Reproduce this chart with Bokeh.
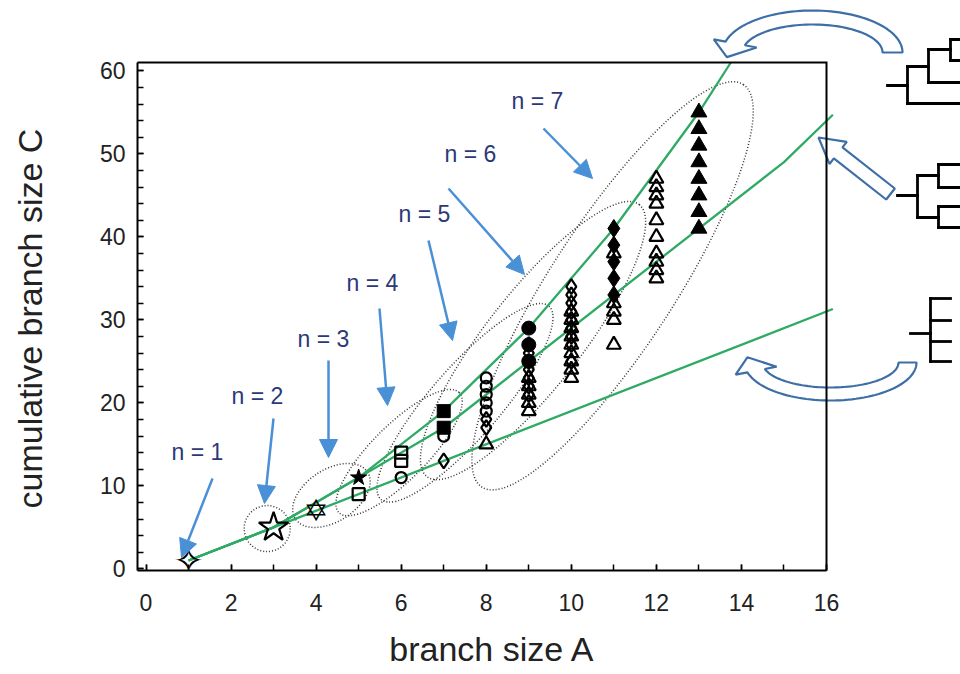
import numpy as np
from bokeh.plotting import figure
from bokeh.models import (Range1d, SingleIntervalTicker, Arrow, NormalHead,
                          ColumnDataSource, PolyAnnotation)
from bokeh.core.properties import value
from bokeh.embed import file_html
from bokeh.resources import INLINE

# ---------------- data: branch size A vs cumulative branch size C ----------------
# reference curves (caterpillar / balanced / star trees), end points read at the box edge
cat_A = [1, 3, 5, 7, 9, 11, 13, 13.75]
cat_C = [1, 5, 11, 19, 29, 41, 55, 61]
bal_A = [1, 3, 7, 15, 16.15]
bal_C = [1, 5, 17, 49, 54.7]
star_A = [1, 3, 16.15]
star_C = [1, 5, 31.3]

# n = 1, 2, 3 (stars)
n1_A, n1_C = [1], [1]
n2_A, n2_C = [3], [5]
n3o_A, n3o_C = [4], [7]
n3b_A, n3b_C = [5], [11]
# n = 4 (squares)
n4o_A = [5, 6, 6]
n4o_C = [9, 13, 14]
n4b_A = [7, 7]
n4b_C = [17, 19]
# n = 5 (circles)
n5o_A = [6, 7, 8, 8, 8, 8, 8]
n5o_C = [11, 16, 19, 20, 21, 22, 23]
n5b_A = [9, 9, 9]
n5b_C = [25, 27, 29]
# n = 6 (diamonds)
n6o_A = [7, 8, 8, 9, 9, 9, 9, 9, 9, 9, 10, 10, 10, 10, 10, 10, 10, 10, 10]
n6o_C = [13, 17, 18, 21, 22, 23, 24, 25, 26, 27, 25, 27, 28, 29, 30, 31, 32, 33, 34]
n6b_A = [11, 11, 11, 11, 11]
n6b_C = [33, 35, 37, 39, 41]
# n = 7 (triangles)
n7o_A = [8, 9, 9, 9, 9, 9, 10, 10, 10, 10, 10, 10, 10, 10, 10,
         11, 11, 11, 11, 11, 12, 12, 12, 12, 12, 12, 12, 12, 12, 12]
n7o_C = [15, 19, 20, 21, 22, 23, 23, 24, 25, 26, 27, 28, 29, 30, 31,
         27, 30, 31, 32, 38, 35, 36, 37, 38, 40, 42, 44, 45, 46, 47]
n7b_A = [13, 13, 13, 13, 13, 13, 13, 13]
n7b_C = [41, 43, 45, 47, 49, 51, 53, 55]

group_labels = ["n = 1", "n = 2", "n = 3", "n = 4", "n = 5", "n = 6", "n = 7"]

# ---------------- geometry ----------------
X0, XMAX, Y0, YMAX = -0.2, 16.0, -0.2, 61.0      # visible plot box
BL, BR, BT, BB = 137, 826, 62, 570                # box in pixels
SX = (BR - BL) / (XMAX - X0)
SY = (BB - BT) / (YMAX - Y0)
W, H = 960, 674
X1 = X0 + (W - BL) / SX                           # frame extends to the right edge
Y1 = Y0 + BB / SY                                 # and to the top edge


def px(x):
    return X0 + (x - BL) / SX


def py(y):
    return Y0 + (BB - y) / SY


GREEN = "#2eaa64"
BLUE = "#4a90d6"
NAVY = "#2c3878"
BLOCK = "#3d6fa6"
FONT = "Liberation Sans"
TXT = "#222222"
NB = "\u00a0"

p = figure(width=W, height=H, x_range=Range1d(X0, X1), y_range=Range1d(Y0, Y1),
           output_backend="svg", toolbar_location=None,
           min_border_left=BL, min_border_right=0, min_border_top=0,
           min_border_bottom=H - BB)
p.xgrid.visible = False
p.ygrid.visible = False
p.outline_line_color = None
p.background_fill_color = "white"
p.border_fill_color = "white"

p.xaxis.ticker = SingleIntervalTicker(interval=2, num_minor_ticks=2)
p.yaxis.ticker = SingleIntervalTicker(interval=10, num_minor_ticks=5)
p.xaxis.bounds = (X0, XMAX)
p.yaxis.bounds = (Y0, YMAX)
for ax in (p.xaxis[0], p.yaxis[0]):
    ax.major_tick_in = 6
    ax.major_tick_out = 0
    ax.minor_tick_in = 6
    ax.minor_tick_out = 0
    ax.major_tick_line_color = "black"
    ax.minor_tick_line_color = "black"
    ax.major_tick_line_width = 1.5
    ax.minor_tick_line_width = 1.5
    ax.axis_line_width = 2
    ax.axis_line_color = "black"
    ax.major_label_text_font = FONT
    ax.major_label_text_font_size = "23px"
    ax.major_label_text_color = TXT
    ax.axis_label_text_font = FONT
    ax.axis_label_text_font_size = "34px"
    ax.axis_label_text_font_style = "normal"
    ax.axis_label_text_color = TXT
p.xaxis.major_label_standoff = 23
p.yaxis.major_label_standoff = 12
# the axis titles are centred on the whole frame; pad them so they sit centred on the box
p.xaxis.axis_label = "branch size A" + NB * 12
p.yaxis.axis_label = "cumulative branch size C" + NB * 7
p.xaxis.axis_label_standoff = 16
p.yaxis.axis_label_standoff = 48

# ---------------- dotted ellipses around each n group ----------------
ell_x = [2.85, 4.36, 5.95, 7.5, 9.1, 10.97]
ell_y = [4.85, 8.84, 14.0, 20.0, 27.5, 34.1]
ell_w = [46, 86, 170, 256, 345, 480]
ell_h = [46, 52, 55, 70, 95, 124]
ell_a = [0, 33, 45, 49, 52, 57]
p.ellipse(x=ell_x, y=ell_y, width=ell_w, height=ell_h,
          width_units="screen", height_units="screen",
          angle=[np.deg2rad(a) for a in ell_a],
          fill_color=None, line_color="#333333", line_width=1.5, line_dash="1 2")

# ---------------- green curves ----------------
for xs, ys in ((cat_A, cat_C), (bal_A, bal_C), (star_A, star_C)):
    p.line(xs, ys, line_color=GREEN, line_width=2.3)

# ---------------- markers ----------------
LW = 2.2
p.text(x=n1_A, y=n1_C, text=["\u2727"], text_font=value("DejaVu Sans"), text_font_size="36px",
       text_align="center", text_baseline="middle", text_color="black")
p.scatter(n2_A, n2_C, marker="star", size=31, fill_color=None, line_color="black", line_width=LW)
p.text(x=n3o_A, y=n3o_C, text=["\u2721"], text_font=value("DejaVu Sans"), text_font_size="30px",
       text_align="center", text_baseline="middle", text_color="black")
p.scatter(n3b_A, n3b_C, marker="star", size=17, fill_color="black", line_color="black", line_width=1)
p.scatter(n4o_A, n4o_C, marker="square", size=12, fill_color=None, line_color="black", line_width=LW)
p.scatter(n4b_A, n4b_C, marker="square", size=13, fill_color="black", line_color="black", line_width=1)
p.scatter(n5o_A, n5o_C, marker="circle", size=11, fill_color=None, line_color="black", line_width=LW)
p.scatter(n5b_A, n5b_C, marker="circle", size=14, fill_color="black", line_color="black", line_width=1)
p.scatter(n6o_A, n6o_C, marker="diamond", size=15, fill_color=None, line_color="black", line_width=LW)
p.scatter(n6b_A, n6b_C, marker="diamond", size=18, fill_color="black", line_color="black", line_width=1)
p.scatter(n7o_A, n7o_C, marker="triangle", size=14, fill_color=None, line_color="black", line_width=LW)
p.scatter(n7b_A, n7b_C, marker="triangle", size=16, fill_color="black", line_color="black", line_width=1)

# ---------------- n = k labels and blue arrows ----------------
lab_px = [(197, 451), (257, 395), (323, 338), (372, 282), (424, 213), (470, 153), (537, 100)]
p.text(x=[px(a) for a, b in lab_px], y=[py(b) for a, b in lab_px], text=group_labels,
       text_font=value(FONT), text_font_size="23px", text_color=NAVY,
       text_align="center", text_baseline="middle")

arr_px = [(212, 478, 181, 557), (273, 418, 264, 503), (328, 360, 328, 457),
          (379, 308, 387, 405), (428, 240, 452, 340), (448, 188, 524, 274),
          (543, 128, 592, 178)]
arr_src = ColumnDataSource(dict(
    x0=[px(a[0]) for a in arr_px], y0=[py(a[1]) for a in arr_px],
    x1=[px(a[2]) for a in arr_px], y1=[py(a[3]) for a in arr_px]))
p.add_layout(Arrow(x_start="x0", y_start="y0", x_end="x1", y_end="y1", source=arr_src,
                   line_color=BLUE, line_width=2.5,
                   end=NormalHead(size=18, fill_color=BLUE, line_color=BLUE, line_width=1)))

# ---------------- tree icons on the right ----------------
tree_px = [
    # caterpillar tree
    (887, 85, 907, 85), (907, 66, 907, 103), (907, 103, 962, 103), (907, 66, 928, 66),
    (928, 49, 928, 82), (928, 82, 962, 82), (928, 49, 950, 49), (950, 39, 950, 60),
    (950, 39, 962, 39), (950, 60, 962, 60),
    # balanced tree
    (897, 195, 917, 195), (917, 175, 917, 217), (917, 175, 938, 175), (917, 217, 938, 217),
    (938, 164, 938, 187), (938, 164, 962, 164), (938, 187, 962, 187),
    (938, 206, 938, 227), (938, 206, 962, 206), (938, 227, 962, 227),
    # star tree
    (910, 333, 930, 333), (930, 298, 930, 361), (930, 298, 950, 298), (930, 320, 950, 320),
    (930, 341, 950, 341), (930, 361, 950, 361),
]
tree_src = ColumnDataSource(dict(
    x0=[px(s[0]) for s in tree_px], y0=[py(s[1]) for s in tree_px],
    x1=[px(s[2]) for s in tree_px], y1=[py(s[3]) for s in tree_px]))
p.add_layout(Arrow(x_start="x0", y_start="y0", x_end="x1", y_end="y1", source=tree_src,
                   line_color="black", line_width=2.8, line_cap="square", end=None))


# ---------------- block arrows ----------------
def curved_arrow(cx, cy, rxo, ryo, rxi, ryi, th_end, ext=12, hl=16):
    th = np.deg2rad(np.linspace(0, th_end, 60))
    ox = cx + rxo * np.cos(th); oy = cy - ryo * np.sin(th)
    ix = cx + rxi * np.cos(th); iy = cy - ryi * np.sin(th)
    po = np.array([ox[-1], oy[-1]]); pi_ = np.array([ix[-1], iy[-1]])
    r = (po - pi_) / np.linalg.norm(po - pi_)
    ho = po + ext * r; hi = pi_ - ext * r
    m = (po + pi_) / 2
    t = th[-1]; s = np.sign(th_end)
    rx = (rxo + rxi) / 2; ry = (ryo + ryi) / 2
    d = s * np.array([-rx * np.sin(t), -ry * np.cos(t)])
    d = d / np.linalg.norm(d)
    tip = m + hl * d
    xs = list(ox) + [ho[0], tip[0], hi[0]] + list(ix[::-1])
    ys = list(oy) + [ho[1], tip[1], hi[1]] + list(iy[::-1])
    return xs, ys


def straight_arrow(tip, tail, hl=25, hw=14, sw=7):
    tip = np.array(tip, float); tail = np.array(tail, float)
    u = (tail - tip) / np.linalg.norm(tail - tip)
    v = np.array([-u[1], u[0]])
    h = tip + hl * u
    pts = [tip, h + hw * v, h + sw * v, tail + sw * v, tail - sw * v, h - sw * v, h - hw * v]
    return [q[0] for q in pts], [q[1] for q in pts]


shapes = [curved_arrow(812, 52, 90, 42, 70, 28, 165),
          curved_arrow(830, 362, 86, 38, 68, 25, -165),
          straight_arrow((818, 137), (890, 193.5))]
for xs, ys in shapes:
    p.add_layout(PolyAnnotation(xs=[px(x) for x in xs], ys=[py(y) for y in ys],
                                fill_color="white", fill_alpha=1.0,
                                line_color=BLOCK, line_alpha=1.0, line_width=2.2))

# ---------------- top and right edges of the plot box ----------------
p.line(x=[X0, XMAX, XMAX], y=[YMAX, YMAX, Y0], line_color="black", line_width=2,
       line_join="miter", level="overlay")

open("out.html", "w").write(file_html(p, INLINE))
